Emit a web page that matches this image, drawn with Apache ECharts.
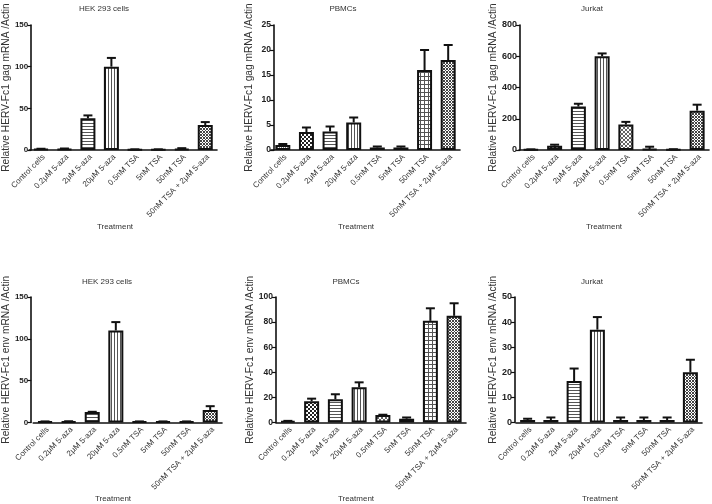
<!DOCTYPE html>
<html><head><meta charset="utf-8">
<script src="https://cdn.jsdelivr.net/npm/echarts@6/dist/echarts.min.js"></script>
<style>html,body{margin:0;padding:0;background:#fff}#c{width:712px;height:504px}</style>
</head><body><div id="c"></div>
<script>
const categories = ['Control cells','0.2μM 5-aza','2μM 5-aza','20μM 5-aza','0.5nM TSA','5nM TSA','50nM TSA','50nM TSA + 2μM 5-aza'];
const titles = ['HEK 293 cells','PBMCs','Jurkat','HEK 293 cells','PBMCs','Jurkat'];
const gagName = 'Relative HERV-Fc1 gag mRNA /Actin';
const envName = 'Relative HERV-Fc1 env mRNA /Actin';
const xName = 'Treatment';

const hekGagMean    = [1, 1, 38, 100, 0.5, 0.5, 1.2, 30];
const hekGagErr     = [0.5, 0.8, 3.5, 10.5, 0.3, 0.3, 1, 3.5];
const pbmcGagMean   = [1.0, 3.6, 3.7, 5.5, 0.5, 0.5, 16, 18];
const pbmcGagErr    = [0.2, 0.9, 1.0, 1.0, 0.2, 0.2, 4, 3];
const jurkatGagMean = [3, 28, 278, 600, 163, 5, 3, 252];
const jurkatGagErr  = [1, 6, 18, 18, 17, 16, 2, 38];
const hekEnvMean    = [1, 1, 12.5, 110, 1, 1, 1, 15];
const hekEnvErr     = [0.3, 0.5, 0.3, 10, 0.3, 0.3, 0.3, 4.5];
const pbmcEnvMean   = [1, 17, 18.5, 28, 6, 3, 81, 85];
const pbmcEnvErr    = [0.3, 2, 4, 4, 0.2, 1, 10, 10];
const jurkatEnvMean = [1, 1, 16.5, 37, 1, 1, 1, 20];
const jurkatEnvErr  = [0.5, 1, 5, 5, 1, 1, 1, 5];

const yMaxes    = [150, 25, 800, 150, 100, 50];
const yIntervals= [50, 5, 200, 50, 20, 10];

const means = [hekGagMean, pbmcGagMean, jurkatGagMean, hekEnvMean, pbmcEnvMean, jurkatEnvMean];
const errs  = [hekGagErr, pbmcGagErr, jurkatGagErr, hekEnvErr, pbmcEnvErr, jurkatEnvErr];
const yNames = [gagName, gagName, gagName, envName, envName, envName];

// layout (pixels): band left/right, y-axis line x, plot top/bottom, name x, title pos, treatment pos, tick font
const layout = [
  {bl:29, br:217, ax:31, top:25, bot:150, nx:8,  tx:104, ty:9,   trx:115, tr:227, fs:8},
  {bl:271, br:460, ax:274, top:25, bot:150, nx:249, tx:343, ty:9,   trx:356, tr:227, fs:8.5},
  {bl:519, br:709, ax:520, top:25, bot:150, nx:495, tx:592, ty:9,   trx:604, tr:227, fs:9},
  {bl:33, br:222, ax:31, top:297, bot:422.5, nx:8,  tx:107, ty:282, trx:113, tr:499, fs:8},
  {bl:276, br:466, ax:276, top:297, bot:422.5, nx:251, tx:346, ty:282, trx:356, tr:499, fs:8.5},
  {bl:516, br:702, ax:515, top:297, bot:422.5, nx:495, tx:592, ty:282, trx:600, tr:499, fs:9}
];

function makePattern(kind){
  const c = document.createElement('canvas');
  const s = (kind==='checker'||kind==='grid'||kind==='cross') ? 4 : (kind==='hl'||kind==='vl'||kind==='combo') ? 3 : 2;
  c.width = s; c.height = s;
  const g = c.getContext('2d');
  g.fillStyle = '#fff'; g.fillRect(0,0,s,s);
  if (kind==='grey'){ g.fillStyle='#777'; g.fillRect(0,0,1,1); g.fillRect(1,1,1,1); }
  else if (kind==='checker'){ g.fillStyle='#222'; g.fillRect(0,0,2,2); g.fillRect(2,2,2,2); }
  else if (kind==='hl'){ g.fillStyle='#555'; g.fillRect(0,0,3,1); }
  else if (kind==='vl'){ g.fillStyle='#555'; g.fillRect(0,0,1,3); }
  else if (kind==='cross'){ g.fillStyle='#666'; for(let i=0;i<4;i++){ g.fillRect(i,i,1,1); g.fillRect(3-i,i,1,1);} }
  else if (kind==='grid'){ g.fillStyle='#555'; g.fillRect(0,0,4,1); g.fillRect(0,0,1,4); }
  else if (kind==='combo'){ g.fillStyle='#444'; g.fillRect(0,0,1,1); g.fillRect(1,1,1,1); g.fillRect(2,2,1,1); g.fillRect(2,0,1,1); g.fillRect(0,2,1,1); }
  return {image: c, repeat: 'repeat'};
}
const patternKinds = ['grey','checker','hl','vl','cross','cross','grid','combo'];
const patterns = patternKinds.map(makePattern);

const grid=[], xAxis=[], yAxis=[], series=[], graphic=[];
for (let p=0; p<6; p++){
  const L = layout[p];
  grid.push({left:L.bl, top:L.top, width:L.br-L.bl, height:L.bot-L.top, containLabel:false});
  xAxis.push({type:'category', gridIndex:p, data:categories,
    axisLine:{lineStyle:{color:'#111', width:1.6}},
    axisTick:{alignWithLabel:true, length:4, lineStyle:{color:'#111', width:1.2}},
    axisLabel:{rotate:45, fontSize:8, color:'#333', margin:3, verticalAlign:'top', interval:0, fontFamily:'Liberation Sans, Arial, sans-serif'},
    splitLine:{show:false}});
  yAxis.push({type:'value', gridIndex:p, min:0, max:yMaxes[p], interval:yIntervals[p], offset:L.bl-L.ax,
    axisLine:{show:true, lineStyle:{color:'#111', width:1.6}},
    axisTick:{show:true, length:4, lineStyle:{color:'#111', width:1.2}},
    axisLabel:{fontSize:L.fs, color:'#222', fontWeight:'bold', margin:3, fontFamily:'Liberation Sans, Arial, sans-serif'},
    splitLine:{show:false},
    name:yNames[p], nameLocation:'middle', nameRotate:90, nameGap:L.ax-L.nx-5,
    nameTextStyle:{fontSize:10.2, color:'#333', fontFamily:'Liberation Sans, Arial, sans-serif'}});
  series.push({type:'bar', xAxisIndex:p, yAxisIndex:p, barWidth:15,
    data: means[p].map((v,i)=>({value:v, itemStyle:{color:patterns[i], borderColor:'#111', borderWidth:2}})),
    z:2});
  series.push({type:'custom', xAxisIndex:p, yAxisIndex:p, z:3,
    data: means[p].map((v,i)=>[i, v, errs[p][i]]),
    encode:{x:0, y:1},
    renderItem:function(params, api){
      const x=api.value(0), v=api.value(1), e=api.value(2);
      const p0=api.coord([x, v]); const p1=api.coord([x, v+e]);
      return {type:'group', children:[
        {type:'line', shape:{x1:p0[0], y1:p0[1], x2:p1[0], y2:p1[1]}, style:{stroke:'#111', lineWidth:2}},
        {type:'line', shape:{x1:p1[0]-4.5, y1:p1[1], x2:p1[0]+4.5, y2:p1[1]}, style:{stroke:'#111', lineWidth:2}}
      ]};
    }});
  graphic.push({type:'text', x:L.tx, y:L.ty, style:{text:titles[p], fontSize:8, fill:'#333', align:'center', verticalAlign:'middle', fontFamily:'Liberation Sans, Arial, sans-serif'}});
  graphic.push({type:'text', x:L.trx, y:L.tr, style:{text:xName, fontSize:8, fill:'#333', align:'center', verticalAlign:'middle', fontFamily:'Liberation Sans, Arial, sans-serif'}});
}

const chart = echarts.init(document.getElementById('c'), null, {renderer:'canvas'});
chart.setOption({animation:false, backgroundColor:'#fff', grid, xAxis, yAxis, series, graphic});
</script>
</body></html>
